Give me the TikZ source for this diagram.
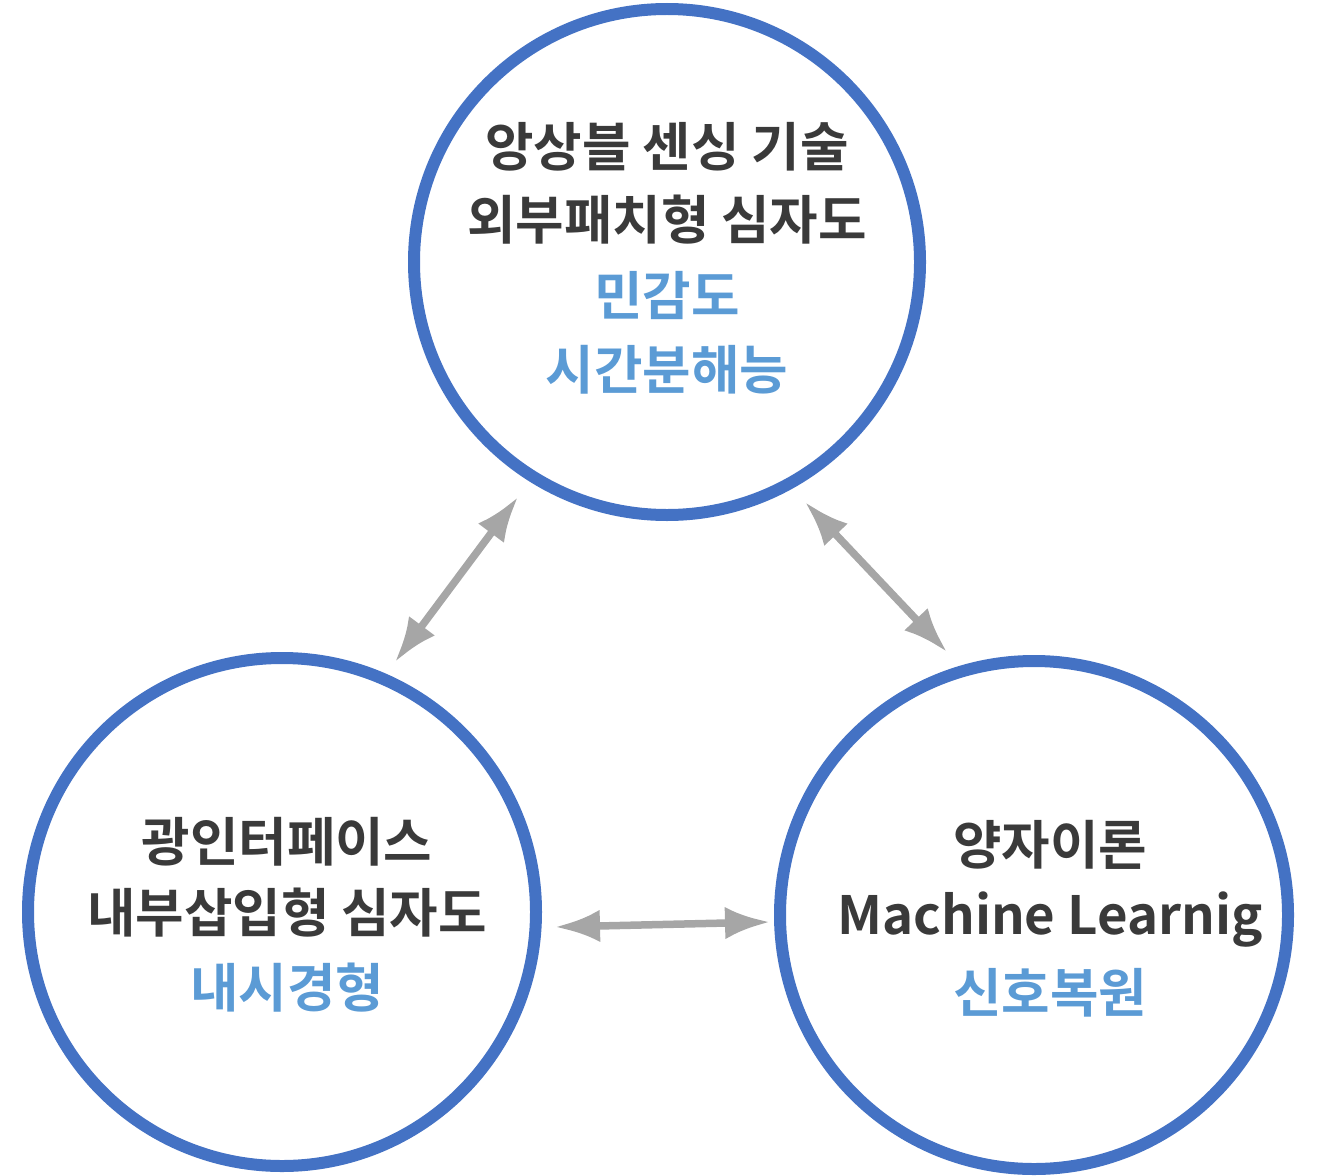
\documentclass[tikz,border=0pt]{standalone}
\usepackage{fontspec}
\setmainfont{Noto Sans CJK KR}[BoldFont={* Bold}]
\usetikzlibrary{arrows.meta}
\definecolor{ringblue}{HTML}{4472C4}
\definecolor{txtblue}{HTML}{5B9BD5}
\definecolor{txtdark}{HTML}{3A3A3A}
\tikzset{
  ring/.style={draw=ringblue,line width=0.24cm,circle},
  link/.style={draw=black!35,line width=0.15cm,{Latex[length=0.9cm,width=0.65cm]}-{Latex[length=0.9cm,width=0.65cm]}},
  txt/.style={font=\bfseries\fontsize{30}{34}\selectfont,text=txtdark},
  hl/.style={txt,text=txtblue}
}
\begin{document}
\begin{tikzpicture}[x=0.02cm,y=-0.02cm]
\useasboundingbox (0,0) rectangle (1335,1176);
\draw[ring] (667,262) circle [radius=253]; % top
\draw[ring] (282,912) circle [radius=254]; % left
\draw[ring] (1034,915) circle [radius=254]; % right

%%% TOP TEXT %%%
\node[txt] (t1) at (667,147) {앙상블 센싱 기술};
\node[txt] (t2) at (667,220) {외부패치형 심자도};
\node[hl] (t3) at (667,295) {민감도};
\node[hl] (t4) at (667,370) {시간분해능};

%%% LEFT TEXT %%%
\node[txt] (l1) at (287,842) {광인터페이스};
\node[txt] (l2) at (287,913) {내부삽입형 심자도};
\node[hl] (l3) at (287,988) {내시경형};

%%% RIGHT TEXT %%%
\node[txt] (r1) at (1050,845) {양자이론};
\node[txt] (r2) at (1050,920) {Machine Learnig};
\node[hl] (r3) at (1050,993) {신호복원};

%%% LINKS %%%
\coordinate (a1) at (395,662); \coordinate (a2) at (518,497);
\coordinate (b1) at (805,502); \coordinate (b2) at (947,652);
\coordinate (c1) at (555,927); \coordinate (c2) at (770,922);
\draw[link] (a1) -- (a2);
\draw[link] (b1) -- (b2);
\draw[link] (c1) -- (c2);
\end{tikzpicture}
\end{document}
